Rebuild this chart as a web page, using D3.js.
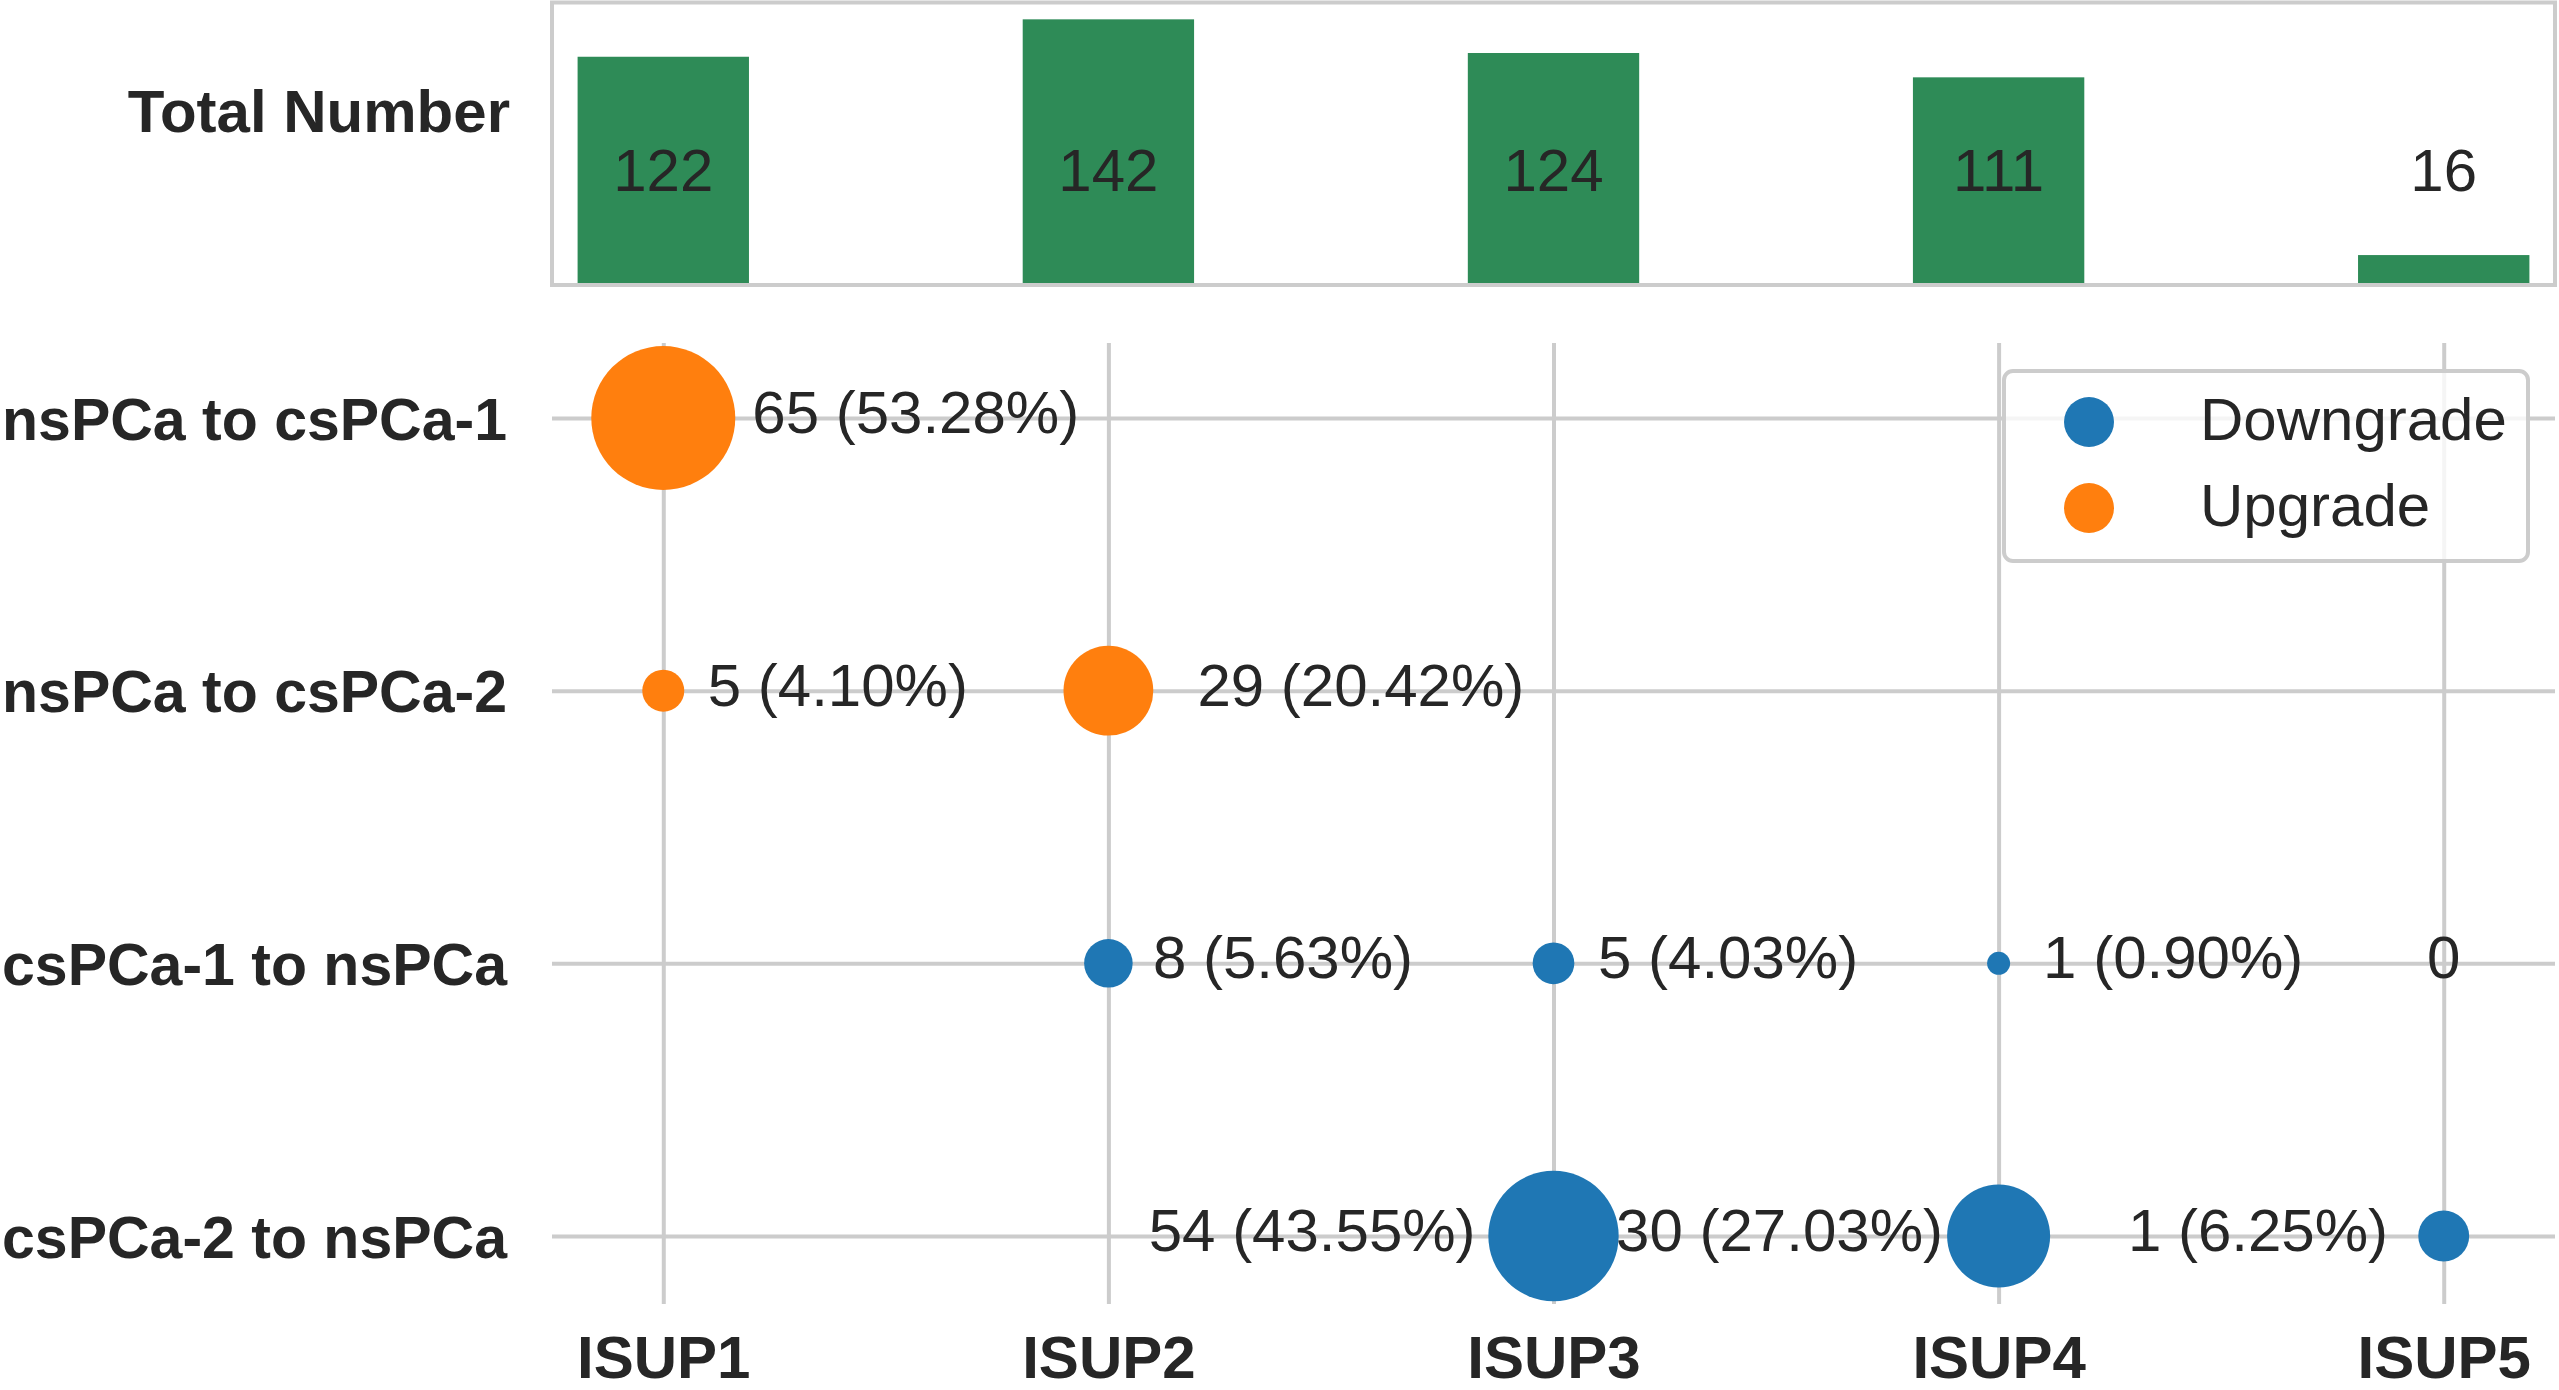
<!DOCTYPE html>
<html>
<head>
<meta charset="utf-8">
<script src="https://cdn.jsdelivr.net/npm/d3@7"></script>
<style>
  body { margin: 0; background: #fff; }
  text { font-family: "Liberation Sans", Arial, sans-serif; fill: #262626; }
</style>
</head>
<body>
<div id="chart"></div>
<script>
// categories and values
const grades = ["ISUP1", "ISUP2", "ISUP3", "ISUP4", "ISUP5"];
const totals = [122, 142, 124, 111, 16];
const transitions = ["nsPCa to csPCa-1", "nsPCa to csPCa-2", "csPCa-1 to nsPCa", "csPCa-2 to nsPCa"];
const transitionType = ["Upgrade", "Upgrade", "Downgrade", "Downgrade"];
const counts = [
    [65, null, null, null, null],
    [5, 29, null, null, null],
    [null, 8, 5, 1, 0],
    [null, null, 54, 30, 1]
];
const percents = [
    [53.28, null, null, null, null],
    [4.10, 20.42, null, null, null],
    [null, 5.63, 4.03, 0.90, 0],
    [null, null, 43.55, 27.03, 6.25]
];
const legendLabels = ["Downgrade", "Upgrade"];

const width = 2559, height = 1390;
const left = 552, right = 2555;
const colors = { Downgrade: "#1f77b4", Upgrade: "#ff7f0e" };
const grid = "#cccccc";
const fs = 60;

const svg = d3.select("#chart")
    .append("svg")
    .attr("width", width)
    .attr("height", height);

const x = d3.scalePoint().domain(grades).range([left, right]).padding(0.25);
const step = x.step();

// ---- top panel: totals ----
const yBar = d3.scaleLinear().domain([0, 151]).range([285, 2.5]);
const barW = 0.385 * step;

svg.append("rect")
    .attr("x", left).attr("y", yBar.range()[1])
    .attr("width", right - left).attr("height", yBar(0) - yBar.range()[1])
    .attr("fill", "none").attr("stroke", grid).attr("stroke-width", 4);

svg.append("g").selectAll("rect")
    .data(grades)
    .join("rect")
    .attr("x", (g) => x(g) - barW / 2)
    .attr("y", (g, i) => yBar(totals[i]))
    .attr("width", barW)
    .attr("height", (g, i) => yBar(0) - yBar(totals[i]) - 2)
    .attr("fill", "#2e8b57");

svg.append("g").selectAll("text")
    .data(grades)
    .join("text")
    .attr("x", (g) => x(g))
    .attr("y", yBar(50))
    .attr("text-anchor", "middle")
    .attr("font-size", fs)
    .text((g, i) => totals[i]);

svg.append("text")
    .attr("x", left - 42).attr("y", 132)
    .attr("text-anchor", "end")
    .attr("font-size", fs).attr("font-weight", "bold")
    .text("Total Number");

// ---- bottom panel: bubbles ----
const gridTop = 343, gridBottom = 1304;
const yRow = d3.scalePoint().domain(transitions).range([418, 1236]);

const gX = svg.append("g")
    .attr("transform", `translate(0,${gridBottom})`)
    .call(d3.axisBottom(x).tickSize(-(gridBottom - gridTop)).tickPadding(31));
gX.select(".domain").remove();
gX.selectAll("line").attr("stroke", grid).attr("stroke-width", 4);
gX.selectAll("text")
    .attr("font-size", fs).attr("font-weight", "bold")
    .attr("fill", "#262626");

const gY = svg.append("g")
    .attr("transform", `translate(${left},0)`)
    .call(d3.axisLeft(yRow).tickSize(-(right - left)).tickPadding(45));
gY.select(".domain").remove();
gY.selectAll("line").attr("stroke", grid).attr("stroke-width", 4);
gY.selectAll("text")
    .attr("dy", "0.36em")
    .attr("font-size", 59).attr("font-weight", "bold")
    .attr("fill", "#262626");
svg.selectAll(".tick text").attr("font-family", null);

const points = [];
transitions.forEach((t, r) => {
    grades.forEach((g, c) => {
        if (counts[r][c] === null) return;
        points.push({ t, g, row: r, n: counts[r][c], p: percents[r][c], type: transitionType[r] });
    });
});

const drawn = points.filter((d) => d.n > 0);
const area = d3.scaleLinear()
    .domain(d3.extent(drawn, (d) => d.p))
    .range([11.5 * 11.5, 72 * 72]);

svg.append("g").selectAll("circle")
    .data(drawn)
    .join("circle")
    .attr("cx", (d) => x(d.g))
    .attr("cy", (d) => yRow(d.t))
    .attr("r", (d) => Math.sqrt(area(d.p)))
    .attr("fill", (d) => colors[d.type]);

// last row labels sit left of the bubble, others right
function labelX(d) {
    if (d.n === 0) return x(d.g);
    if (d.row === 3) return x(d.g) - (d.p > 40 ? 0.175 : 0.125) * step;
    return x(d.g) + (d.p > 15 ? 0.2 : 0.1) * step;
}

svg.append("g").selectAll("text")
    .data(points)
    .join("text")
    .attr("x", labelX)
    .attr("y", (d) => yRow(d.t) + 15)
    .attr("text-anchor", (d) => d.n === 0 ? "middle" : (d.row === 3 ? "end" : "start"))
    .attr("font-size", fs)
    .text((d) => d.n === 0 ? "0" : `${d.n} (${d.p.toFixed(2)}%)`);

// legend
const legend = svg.append("g");
legend.append("rect")
    .attr("x", 2004).attr("y", 371)
    .attr("width", 524).attr("height", 190)
    .attr("rx", 9)
    .attr("fill", "#fff").attr("fill-opacity", 0.8)
    .attr("stroke", grid).attr("stroke-width", 4);
const item = legend.selectAll("g.item")
    .data(legendLabels)
    .join("g")
    .attr("class", "item")
    .attr("transform", (d, i) => `translate(2089,${422 + i * 86})`);
item.append("circle").attr("r", 25).attr("fill", (d) => colors[d]);
item.append("text")
    .attr("x", 111).attr("y", 18)
    .attr("font-size", fs)
    .text((d) => d);
</script>
</body>
</html>
